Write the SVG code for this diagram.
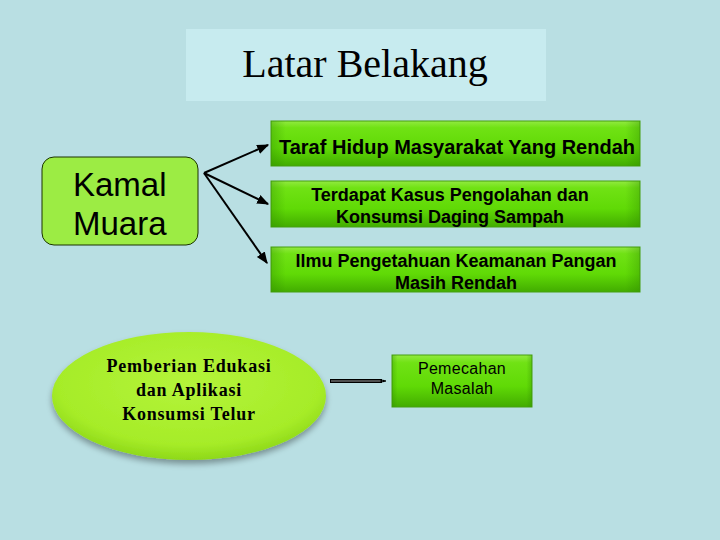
<svg xmlns="http://www.w3.org/2000/svg" width="720" height="540" viewBox="0 0 720 540">
<defs>
<linearGradient id="gbox" x1="0" y1="0" x2="0" y2="1">
<stop offset="0" stop-color="#92ea40"/>
<stop offset="0.15" stop-color="#70e214"/>
<stop offset="0.6" stop-color="#60da06"/>
<stop offset="1" stop-color="#42ac00"/>
</linearGradient>
<linearGradient id="gside" x1="0" y1="0" x2="1" y2="0">
<stop offset="0" stop-color="#2f8a00" stop-opacity="0.35"/>
<stop offset="0.04" stop-color="#2f8a00" stop-opacity="0"/>
<stop offset="0.96" stop-color="#2f8a00" stop-opacity="0"/>
<stop offset="1" stop-color="#2f8a00" stop-opacity="0.35"/>
</linearGradient>
<radialGradient id="gell" cx="0.5" cy="0.4" r="0.6">
<stop offset="0" stop-color="#b4f43a"/>
<stop offset="0.8" stop-color="#a6ec28"/>
<stop offset="1" stop-color="#8ed818"/>
</radialGradient>
<filter id="sh" x="-20%" y="-20%" width="140%" height="150%">
<feGaussianBlur in="SourceAlpha" stdDeviation="3"/>
<feOffset dx="0" dy="4"/>
<feComponentTransfer><feFuncA type="linear" slope="0.35"/></feComponentTransfer>
<feMerge><feMergeNode/><feMergeNode in="SourceGraphic"/></feMerge>
</filter>
<marker id="ah" viewBox="0 0 10 10" refX="9" refY="5" markerWidth="6" markerHeight="6" orient="auto">
<path d="M0,1 L10,5 L0,9 z" fill="#000"/>
</marker>
<marker id="ah2" viewBox="0 0 10 10" refX="9" refY="5" markerWidth="4" markerHeight="4" orient="auto">
<path d="M0,1 L10,5 L0,9 z" fill="#000"/>
</marker>
</defs>
<style>
.sans{font-family:"Liberation Sans",Arial,sans-serif;fill:#000}
.b{font-weight:bold}
.gb{fill:url(#gbox);stroke:#46a010;stroke-width:1}
.conn{stroke:#000;stroke-width:2;fill:none}
</style>
<rect width="720" height="540" fill="#b9dfe3"/>
<g id="title">
<rect x="186" y="29" width="360" height="72" fill="#c7ebef"/>
<text x="365" y="77" text-anchor="middle" font-family="Liberation Serif,Times New Roman,serif" font-size="40" fill="#000">Latar Belakang</text>
</g>
<g id="kamal">
<rect x="42" y="157" width="156" height="88" rx="12" fill="#9cec44" stroke="#1a3300" stroke-width="1"/>
<text class="sans" x="73" y="196" font-size="33">Kamal</text>
<text class="sans" x="73" y="235" font-size="33">Muara</text>
</g>
<g id="box1">
<rect class="gb" x="271" y="121" width="369" height="45"/>
<rect x="271" y="121" width="369" height="45" fill="url(#gside)"/>
<text class="sans b" x="457" y="154" text-anchor="middle" font-size="20">Taraf Hidup Masyarakat Yang Rendah</text>
</g>
<g id="box2">
<rect class="gb" x="271" y="181" width="369" height="46"/>
<rect x="271" y="181" width="369" height="46" fill="url(#gside)"/>
<text class="sans b" x="450" y="201" text-anchor="middle" font-size="18">Terdapat Kasus Pengolahan dan</text>
<text class="sans b" x="450" y="223" text-anchor="middle" font-size="18">Konsumsi Daging Sampah</text>
</g>
<g id="box3">
<rect class="gb" x="271" y="247" width="369" height="45"/>
<rect x="271" y="247" width="369" height="45" fill="url(#gside)"/>
<text class="sans b" x="456" y="267" text-anchor="middle" font-size="18">Ilmu Pengetahuan Keamanan Pangan</text>
<text class="sans b" x="456" y="289" text-anchor="middle" font-size="18">Masih Rendah</text>
</g>
<g id="ellipse">
<ellipse cx="189" cy="396" rx="137" ry="64" fill="url(#gell)" filter="url(#sh)"/>
<g font-family="Liberation Serif,Times New Roman,serif" font-weight="bold" font-size="18" letter-spacing="0.8" text-anchor="middle" fill="#000">
<text x="189" y="372">Pemberian Edukasi</text>
<text x="189" y="396">dan Aplikasi</text>
<text x="189" y="420">Konsumsi Telur</text>
</g>
</g>
<g id="pemecahan">
<rect class="gb" x="392" y="355" width="140" height="52"/>
<rect x="392" y="355" width="140" height="52" fill="url(#gside)"/>
<text class="sans" x="462" y="374" text-anchor="middle" font-size="16" letter-spacing="0.3">Pemecahan</text>
<text class="sans" x="462" y="394" text-anchor="middle" font-size="16" letter-spacing="0.3">Masalah</text>
</g>
<g id="connectors">
<line class="conn" x1="204" y1="173" x2="268" y2="145" marker-end="url(#ah)"/>
<line class="conn" x1="204" y1="173" x2="268" y2="204" marker-end="url(#ah)"/>
<line class="conn" x1="204" y1="173" x2="267" y2="263" marker-end="url(#ah)"/>
<line x1="330" y1="381" x2="382" y2="381" stroke="#000" stroke-width="4"/>
<line x1="331" y1="381" x2="381" y2="381" stroke="#6a6a6a" stroke-width="1.5"/>
<line x1="380" y1="381" x2="386" y2="381" stroke="#000" stroke-width="1" marker-end="url(#ah2)"/>
</g>
</svg>
